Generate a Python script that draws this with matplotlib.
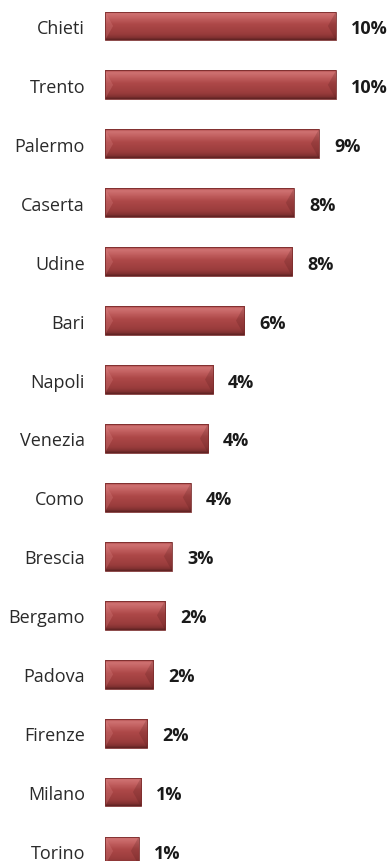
import numpy as np
import matplotlib
matplotlib.use("Agg")
import matplotlib.pyplot as plt
from matplotlib.colors import LinearSegmentedColormap
from matplotlib.patches import Polygon

# =========================
# Datos
# =========================
cities = ["Chieti", "Trento", "Palermo", "Caserta", "Udine", "Bari", "Napoli",
          "Venezia", "Como", "Brescia", "Bergamo", "Padova", "Firenze",
          "Milano", "Torino"]
# largo de las barras
values = [10.0, 10.0, 9.26, 8.18, 8.1, 6.02, 4.68, 4.46, 3.72, 2.9, 2.6,
          2.08, 1.82, 1.56, 1.47]
# etiquetas tal como aparecen
labels = ["10%", "10%", "9%", "8%", "8%", "6%", "4%", "4%", "4%", "3%",
          "2%", "2%", "2%", "1%", "1%"]

plt.rcParams['font.family'] = ['Open Sans', 'DejaVu Sans']

W, H = 391, 862
fig = plt.figure(figsize=(W / 100, H / 100), dpi=100)
ax = fig.add_axes([105 / W, 0, 1 - 105 / W, 1])

y = np.arange(len(cities))
bars = ax.barh(y, values, height=0.49, color="#a94545", edgecolor="none")

ax.set_xlim(0, (W - 105) / 23.1)
ax.set_ylim(14.17, -0.458)

# gradiente vertical dentro de cada barra
grad = LinearSegmentedColormap.from_list("g", [
    (0.0, "#ad4a4a"), (0.08, "#cf7272"), (0.22, "#c46262"),
    (0.45, "#ad4848"), (0.8, "#993c3c"), (0.92, "#823232"), (1.0, "#5e2222")])
img = np.linspace(0, 1, 64).reshape(-1, 1)

for b in bars:
    x0, y0 = b.get_x(), b.get_y()
    w, h = b.get_width(), b.get_height()
    im = ax.imshow(img, cmap=grad, aspect="auto", extent=(x0, x0 + w, y0 + h, y0),
                   interpolation="bilinear", zorder=2)
    im.set_clip_path(b)
    # biseles en los extremos
    d = 0.35
    left = Polygon([(x0, y0), (x0 + d, y0 + h / 2), (x0, y0 + h)],
                   closed=True, facecolor="#e08a8a", alpha=0.25, lw=0, zorder=3)
    right = Polygon([(x0 + w, y0), (x0 + w - d, y0 + h / 2), (x0 + w, y0 + h)],
                    closed=True, facecolor="#4a1616", alpha=0.2, lw=0, zorder=3)
    ax.add_patch(left)
    ax.add_patch(right)
    b.set_edgecolor("#7a2c2c")
    b.set_linewidth(0.6)
    b.set_zorder(4)
    b.set_facecolor("none")

for b, lab in zip(bars, labels):
    ax.annotate(lab, (b.get_width(), b.get_y() + b.get_height() / 2),
                xytext=(10.8, -1.4), textcoords="offset points",
                ha="left", va="center", fontsize=13, fontweight="bold",
                color="#1a1a1a")

ax.set_yticks(y)
ax.set_yticklabels(cities, fontsize=13, color="#2a2a2a")
ax.tick_params(axis="y", length=0, pad=14.4)
ax.set_xticks([])
for s in ax.spines.values():
    s.set_visible(False)

fig.savefig("out.png", dpi=100)
